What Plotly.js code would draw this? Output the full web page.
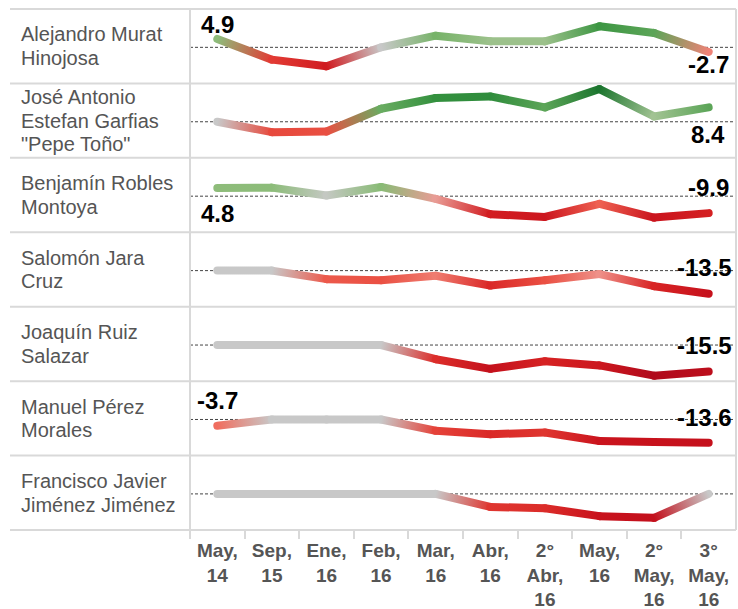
<!DOCTYPE html>
<html>
<head>
<meta charset="utf-8">
<script src="https://cdn.plot.ly/plotly-3.0.1.min.js"></script>
<style>
  html, body { margin: 0; padding: 0; background: #ffffff; }
  #chart { width: 738px; height: 609px; }
</style>
</head>
<body>
<div id="chart"></div>
<script>
// ---------- DATA ----------
const categories = ["May,<br>14", "Sep,<br>15", "Ene,<br>16", "Feb,<br>16", "Mar,<br>16",
  "Abr,<br>16", "2°<br>Abr,<br>16", "May,<br>16", "2°<br>May,<br>16", "3°<br>May,<br>16"];

const candidateNames = [
  ["Alejandro Murat", "Hinojosa"],
  ["José Antonio", "Estefan Garfias", "\"Pepe Toño\""],
  ["Benjamín Robles", "Montoya"],
  ["Salomón Jara", "Cruz"],
  ["Joaquín Ruiz", "Salazar"],
  ["Manuel Pérez", "Morales"],
  ["Francisco Javier", "Jiménez Jiménez"]
];

const muratValues   = [4.9, -7.2, -11.1, 0, 6.8, 3.5, 3.5, 12.3, 8.4, -2.7];
const estefanValues = [0, -6.1, -5.7, 7.6, 13.9, 14.8, 8.4, 19.1, 3.1, 8.4];
const roblesValues  = [4.8, 5.0, 0.4, 5.4, -1.6, -10.5, -12.1, -4.5, -12.5, -9.9];
const jaraValues    = [0, 0, -5.0, -5.6, -3.0, -8.7, -5.6, -2.0, -9.1, -13.5];
const ruizValues    = [0, 0, 0, 0, -8.3, -13.9, -9.5, -11.9, -17.9, -15.5];
const perezValues   = [-3.7, 0, 0, 0, -6.6, -8.6, -7.6, -12.6, -13.2, -13.6];
const jimenezValues = [0, 0, 0, 0, 0, -7.6, -8.4, -13.0, -14.0, 0];

const seriesValues = [muratValues, estefanValues, roblesValues, jaraValues, ruizValues, perezValues, jimenezValues];

// ---------- STYLE ----------
const W = 738, H = 609;
const TOP = 9, BOTTOM = 530, LEFT_COL = 190, RIGHT = 736, TABLE_LEFT = 10;
const rowH = (BOTTOM - TOP) / 7;
const FONT = "Liberation Sans, Arial, Helvetica, sans-serif";

// label offsets (pixels) for start / end value labels per row
const labelStyle = [
  { start: { ys: 14, xs: 0 }, end: { ys: -13, xs: 0 } },
  { start: { ys: -26, xs: 0 }, end: { ys: -27, xs: -1 } },
  { start: { ys: -26, xs: 0 }, end: { ys: 26, xs: 0 } },
  { start: { ys: 26, xs: 0 }, end: { ys: 26, xs: -4 } },
  { start: { ys: 26, xs: 0 }, end: { ys: 26, xs: -4 } },
  { start: { ys: 25, xs: 0 }, end: { ys: 25, xs: -4 } },
  { start: { ys: 25, xs: 0 }, end: { ys: 25, xs: -4 } }
];

const colorStops = [
  [-18, [176, 10, 28]], [-13, [200, 18, 28]], [-9, [216, 36, 36]], [-6, [232, 74, 62]],
  [-4, [240, 104, 88]], [-2, [238, 144, 136]], [-0.8, [220, 180, 176]], [0, [200, 200, 200]],
  [2, [180, 200, 170]], [4, [148, 190, 128]], [6, [132, 186, 114]], [9, [82, 160, 82]],
  [13, [56, 148, 64]], [17, [35, 130, 56]], [20, [23, 112, 42]]
];
function colorFor(v) {
  if (v <= colorStops[0][0]) return rgb(colorStops[0][1]);
  for (let i = 0; i < colorStops.length - 1; i++) {
    const [a, ca] = colorStops[i], [b, cb] = colorStops[i + 1];
    if (v >= a && v <= b) {
      const t = (v - a) / (b - a);
      return rgb(ca.map((c, k) => c + (cb[k] - c) * t));
    }
  }
  return rgb(colorStops[colorStops.length - 1][1]);
}
function rgb(c) { return "rgb(" + c.map(x => Math.round(x)).join(",") + ")"; }
const pyToPaper = py => 1 - py / H;

// ---------- TRACES ----------
const traces = [];
seriesValues.forEach((vals, r) => {
  const yax = r === 0 ? "y" : "y" + (r + 1);
  for (let i = 0; i < vals.length - 1; i++) {
    traces.push({
      type: "scatter", mode: "lines",
      x: [categories[i], categories[i + 1]],
      y: [vals[i], vals[i + 1]],
      xaxis: "x", yaxis: yax,
      line: { width: 8, color: colorFor((vals[i] + vals[i + 1]) / 2) },
      meta: [colorFor(vals[i]), colorFor(vals[i + 1])],
      hoverinfo: "skip", showlegend: false
    });
  }
});

// ---------- LAYOUT ----------
const layout = {
  width: W, height: H,
  margin: { l: 0, r: 0, t: 0, b: 0 },
  paper_bgcolor: "#ffffff", plot_bgcolor: "rgba(0,0,0,0)",
  showlegend: false,
  font: { family: FONT },
  xaxis: {
    domain: [LEFT_COL / W, RIGHT / W],
    type: "category", categoryorder: "array", categoryarray: categories,
    range: [-0.5, categories.length - 0.5],
    anchor: "y7", tickson: "boundaries",
    ticks: "outside", ticklen: 8, tickwidth: 2, tickcolor: "#d9d9d9",
    ticklabelstandoff: 7,
    showgrid: false, zeroline: false, showline: false, fixedrange: true,
    tickfont: { family: FONT, size: 19, color: "#555555", weight: "bold" }
  },
  shapes: [], annotations: []
};

seriesValues.forEach((vals, r) => {
  const key = r === 0 ? "yaxis" : "yaxis" + (r + 1);
  const ref = r === 0 ? "y" : "y" + (r + 1);
  const topPx = TOP + r * rowH, botPx = TOP + (r + 1) * rowH;
  layout[key] = {
    domain: [pyToPaper(botPx), pyToPaper(topPx)],
    range: [-21.1, 22.4], anchor: "x",
    visible: false, fixedrange: true
  };
  // row top border
  layout.shapes.push({
    type: "line", xref: "paper", yref: "paper", layer: "below",
    x0: TABLE_LEFT / W, x1: RIGHT / W, y0: pyToPaper(topPx), y1: pyToPaper(topPx),
    line: { color: "#d9d9d9", width: 2 }
  });
  // dashed zero line
  layout.shapes.push({
    type: "line", xref: "x domain", yref: ref, layer: "below",
    x0: 0, x1: 1, y0: 0, y1: 0,
    line: { color: "#444444", width: 1, dash: "3px,2px" }
  });
  // candidate name, one annotation per line
  const names = candidateNames[r];
  names.forEach((line, k) => {
    layout.annotations.push({
      text: line, xref: "paper", x: 19 / W, xanchor: "left",
      yref: ref + " domain", y: 0.5, yanchor: "middle",
      yshift: -(k - (names.length - 1) / 2) * 23.5,
      showarrow: false, font: { family: FONT, size: 20, color: "#555555" }
    });
  });
  // start / end value labels
  [[0, "start"], [vals.length - 1, "end"]].forEach(([idx, which]) => {
    const v = vals[idx];
    if (v === 0) return;
    const st = labelStyle[r][which];
    layout.annotations.push({
      text: v.toFixed(1), xref: "x", yref: ref,
      x: categories[idx], y: v, xanchor: "center", yanchor: "middle",
      xshift: st.xs, yshift: st.ys, showarrow: false,
      font: { family: FONT, size: 24, color: "#000000", weight: "bold" }
    });
  });
});
// bottom border of table
layout.shapes.push({
  type: "line", xref: "paper", yref: "paper", layer: "below",
  x0: TABLE_LEFT / W, x1: RIGHT / W, y0: pyToPaper(BOTTOM), y1: pyToPaper(BOTTOM),
  line: { color: "#d9d9d9", width: 2 }
});
// vertical separators
[LEFT_COL, RIGHT].forEach(px => {
  layout.shapes.push({
    type: "line", xref: "paper", yref: "paper", layer: "below",
    x0: px / W, x1: px / W, y0: pyToPaper(TOP), y1: pyToPaper(BOTTOM),
    line: { color: "#d9d9d9", width: 2 }
  });
});

Plotly.newPlot("chart", traces, layout, { displayModeBar: false, staticPlot: true }).then(gd => {
  // colour each segment with a gradient between its endpoint colours
  const ns = "http://www.w3.org/2000/svg";
  const svg = gd.querySelector("svg.main-svg");
  let defs = svg.querySelector("defs");
  if (!defs) { defs = document.createElementNS(ns, "defs"); svg.insertBefore(defs, svg.firstChild); }
  gd.querySelectorAll(".scatterlayer .trace").forEach(g => {
    const cd = g.__data__;
    const tr = cd && cd[0] && cd[0].trace;
    if (!tr || !tr.meta) return;
    const path = g.querySelector("path.js-line");
    if (!path) return;
    const nums = (path.getAttribute("d").match(/-?\d*\.?\d+(?:e-?\d+)?/g) || []).map(Number);
    if (nums.length < 4) return;
    const x1 = nums[0], y1 = nums[1], x2 = nums[nums.length - 2], y2 = nums[nums.length - 1];
    const id = "segGrad" + tr.index;
    const lg = document.createElementNS(ns, "linearGradient");
    lg.setAttribute("id", id);
    lg.setAttribute("gradientUnits", "userSpaceOnUse");
    lg.setAttribute("x1", x1); lg.setAttribute("y1", y1);
    lg.setAttribute("x2", x2); lg.setAttribute("y2", y2);
    [[0, tr.meta[0]], [1, tr.meta[1]]].forEach(([o, c]) => {
      const s = document.createElementNS(ns, "stop");
      s.setAttribute("offset", o);
      s.setAttribute("stop-color", c);
      lg.appendChild(s);
    });
    defs.appendChild(lg);
    path.style.stroke = "url(#" + id + ")";
    path.style.strokeLinecap = "round";
    path.style.strokeLinejoin = "round";
  });
});
</script>
</body>
</html>
